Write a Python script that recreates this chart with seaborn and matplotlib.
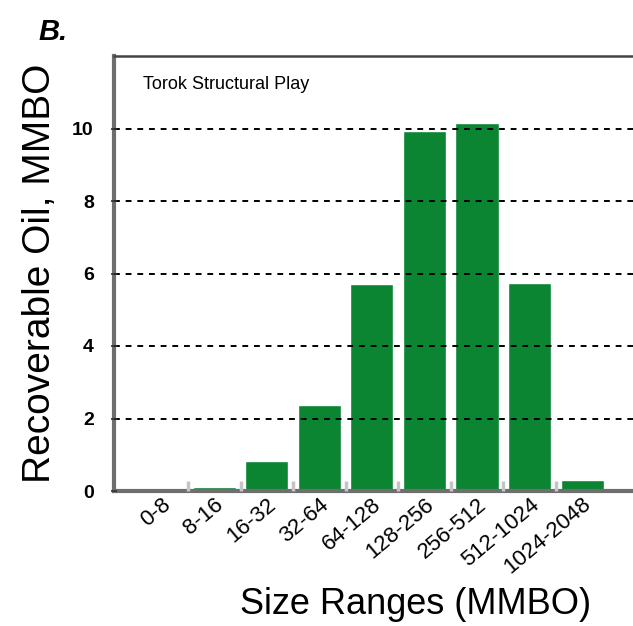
import matplotlib
matplotlib.use("Agg")
import matplotlib.pyplot as plt
import seaborn as sns
import pandas as pd

# Данні
size_ranges = ["0-8", "8-16", "16-32", "32-64", "64-128", "128-256",
               "256-512", "512-1024", "1024-2048"]
recoverable_oil = [0.0, 0.12, 0.83, 2.38, 5.7, 9.92, 10.14, 5.75, 0.3]
y_ticks = [0, 2, 4, 6, 8, 10]

df = pd.DataFrame({"size": size_ranges, "oil": recoverable_oil})

sns.set_style("white")
plt.rcParams["font.family"] = ["Liberation Sans", "DejaVu Sans"]
plt.rcParams["text.color"] = "black"
plt.rcParams["axes.labelcolor"] = "black"
plt.rcParams["xtick.color"] = "black"
plt.rcParams["ytick.color"] = "black"

fig = plt.figure(figsize=(6.33, 6.26), dpi=100)
ax = fig.add_axes([114 / 633, 1 - 491 / 626, (633 - 114) / 633, (491 - 56) / 626])

sns.barplot(data=df, x="size", y="oil", color="#0b8532", saturation=1,
            width=0.82, ax=ax)

ax.set_xlim(-0.91, 8.97)
ax.set_ylim(0, 12)
ax.set_yticks(y_ticks)
ax.set_yticklabels([str(t) for t in y_ticks], fontsize=14, fontweight="bold")
ax.set_xticks(range(len(size_ranges)))
ax.set_xticklabels(size_ranges, rotation=40, ha="right", rotation_mode="anchor",
                   fontsize=16)
ax.tick_params(axis="x", which="major", bottom=True, length=0, pad=2)
ax.tick_params(axis="y", left=True, length=5, width=1.2, direction="inout",
               pad=12, color="#333333")
ax.set_xticks([i + 0.5 for i in range(len(size_ranges) - 1)], minor=True)
ax.tick_params(axis="x", which="minor", bottom=True, length=7, width=2.5,
               direction="in", color="#c4c4c4")

# пунктирна сітка поверх стовпців
ax.set_axisbelow(False)
ax.yaxis.grid(True, linestyle=(0, (3, 3)), color="black", linewidth=1.4)
ax.xaxis.grid(False)
for line in ax.get_ygridlines():
    if line.get_ydata()[0] == 0:
        line.set_visible(False)

for side in ["left", "bottom"]:
    ax.spines[side].set_color("#6e6e6e")
    ax.spines[side].set_linewidth(3)
ax.spines["top"].set_color("#444444")
ax.spines["top"].set_linewidth(1.8)
ax.spines["right"].set_visible(False)

ax.set_ylabel("Recoverable Oil, MMBO", fontsize=28, labelpad=10)
ax.set_xlabel("Size Ranges (MMBO)", fontsize=26, va="center")
ax.xaxis.set_label_coords(0.582, -0.262)

ax.text(0.055, 0.955, "Torok Structural Play", transform=ax.transAxes,
        fontsize=13, va="top", ha="left")
fig.text(38 / 633, 1 - 32 / 626, "B.", fontsize=21, fontweight="bold",
         fontstyle="italic", va="center", ha="left")

fig.savefig("out.png", dpi=100)
print("saved out.png")
